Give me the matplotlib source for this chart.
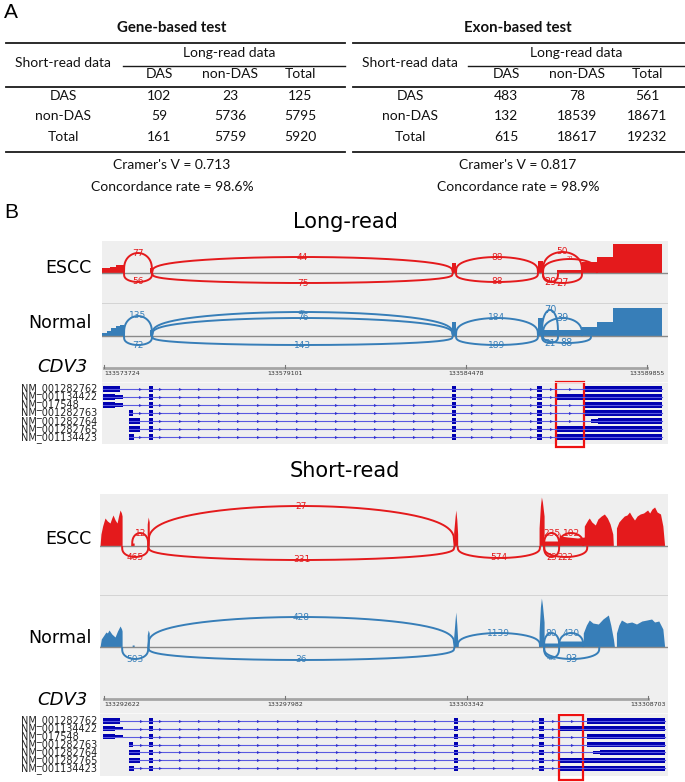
import numpy as np
import matplotlib
matplotlib.use('Agg')
import matplotlib.pyplot as plt
from matplotlib.patches import Rectangle

W, H = 685, 782

# ---- panel A: contingency tables ----
LONG_COLS = ['DAS', 'non-DAS', 'Total']
SHORT_ROWS = ['DAS', 'non-DAS', 'Total']
GENE_COUNTS = [[102, 23, 125], [59, 5736, 5795], [161, 5759, 5920]]
EXON_COUNTS = [[483, 78, 561], [132, 18539, 18671], [615, 18617, 19232]]
GENE_CRAMER, GENE_CONC = 0.713, 98.6
EXON_CRAMER, EXON_CONC = 0.817, 98.9

# ---- panel B: sashimi plots (x in bp from first axis tick) ----
LR_TICKS = [133573724, 133579101, 133584478, 133589855]
SR_TICKS = [133292622, 133297982, 133303342, 133308703]

# long-read coverage blocks: (start, end, depth)
LR_ESCC_COV = [(-59, 178, 5), (178, 356, 6), (356, 594, 8), (1366, 1455, 5),
               (10336, 10454, 10), (12890, 13038, 12), (13454, 14197, 3),
               (14197, 14642, 11), (14642, 15117, 16), (15117, 16573, 29)]
LR_NORM_COV = [(-59, 89, 3), (89, 208, 5), (208, 356, 8), (356, 475, 10), (475, 594, 11),
               (1366, 1455, 6), (10336, 10454, 14), (12890, 13038, 18), (13038, 13484, 6),
               (13484, 14197, 6), (14197, 14642, 9), (14642, 15117, 14), (15117, 16573, 28)]

# short-read coverage profile
SR_ESCC_POS = [-118, -90, -40, 30, 100, 178, 230, 267, 330, 386, 430, 475, 515, 535, 536,
               832, 833, 891, 892, 1277, 1278, 1307, 1337, 1338,
               10336, 10337, 10380, 10400, 10430, 10454, 10455,
               12860, 12861, 12900, 12930, 12960, 13009, 13010, 13454, 13455, 13500, 13700, 14000, 14197,
               14198, 14300, 14345, 14420, 14523, 14600, 14700, 14791, 14880, 14960, 15040, 15058,
               15147, 15148, 15220, 15296, 15380, 15460, 15533, 15600, 15682, 15760, 15850, 15950,
               16068, 16130, 16200, 16276, 16350, 16450, 16520, 16573]
SR_ESCC_DEP = [0, 12, 20, 28, 25, 23, 28, 31, 26, 23, 30, 36, 33, 30, 0,
               0, 3, 3, 0, 0, 22, 29, 24, 0,
               0, 14, 30, 36, 26, 12, 0,
               0, 18, 40, 49, 44, 30, 5, 5, 14, 10, 9, 8, 9,
               20, 26, 28, 24, 21, 27, 30, 32, 28, 22, 12, 0,
               0, 18, 24, 27, 30, 31, 34, 30, 26, 30, 32, 33,
               36, 33, 37, 39, 34, 32, 20, 0]
SR_NORM_POS = [-118, -80, 0, 59, 100, 149, 230, 327, 400, 475, 520, 535, 536,
               832, 833, 891, 892, 1277, 1278, 1307, 1337, 1338,
               10336, 10337, 10380, 10400, 10430, 10454, 10455,
               12860, 12861, 12900, 12930, 12960, 13009, 13010, 13454, 13455, 14167,
               14168, 14260, 14345, 14450, 14612, 14750, 14909, 14980, 15058, 15090,
               15147, 15148, 15220, 15296, 15450, 15600, 15741, 15900, 16050, 16187,
               16276, 16400, 16520, 16573]
SR_NORM_DEP = [0, 8, 12, 15, 14, 17, 13, 10, 16, 21, 18, 16, 0,
               0, 2, 2, 0, 0, 12, 17, 14, 0,
               0, 10, 28, 35, 22, 8, 0,
               0, 15, 40, 49, 42, 25, 4, 4, 6, 6,
               14, 22, 27, 24, 23, 28, 32, 22, 8, 0,
               0, 14, 22, 27, 24, 25, 23, 26, 27, 28,
               25, 26, 18, 0]

# junctions: (start, end, reads, arc height, label size)
LR_ESCC_JUNC = [(594, 1426, 77, 20, 6.5), (594, 1426, 56, -9, 6.5),
                (1426, 10365, 44, 16, 6.5), (1426, 10365, 75, -10, 6.5),
                (10454, 12890, 88, 16, 6.5), (10454, 12890, 88, -9, 6.5),
                (13038, 14197, 50, 21, 6.5), (13038, 14642, 21, 14, 4),
                (13038, 13484, 29, -9, 7), (13038, 14197, 27, -10, 7)]
LR_NORM_JUNC = [(594, 1426, 135, 20, 6.5), (594, 1426, 72, -9, 6.5),
                (1426, 10365, 76, 18, 6.5), (1426, 10365, 70, 24, 4),
                (1426, 10365, 143, -9, 6.5),
                (10454, 12890, 184, 18, 6.5), (10454, 12890, 189, -9, 6.5),
                (13009, 13484, 70, 26, 7), (13038, 14197, 39, 18, 7),
                (13009, 13484, 21, -7, 6.5), (13038, 14464, 88, -7, 7)]
SR_ESCC_JUNC = [(535, 1307, 465, -11, 6.5), (832, 1307, 12, 13, 6.5),
                (1307, 10365, 27, 40, 6.5), (1307, 10365, 331, -14, 6.5),
                (10454, 12890, 574, -12, 6.5),
                (13009, 13454, 235, 13, 6.5), (13454, 14167, 102, 13, 6.5),
                (13009, 13454, 23, -11, 6), (13009, 14286, 222, -11, 6)]
SR_NORM_JUNC = [(535, 1307, 503, -12, 6.5), (1307, 10365, 428, 30, 6.5),
                (1307, 10365, 36, -13, 6.5), (10454, 12890, 1139, 14, 6.5),
                (13009, 13454, 80, 14, 6.5), (13454, 14167, 430, 14, 6.5),
                (13009, 13454, 432, -11, 4), (13009, 14642, 93, -12, 7)]

# CDV3 transcripts (bp offsets, 1 = coding block, 0 = UTR)
TX_NAMES = ['NM_001282762', 'NM_001134422', 'NM_017548', 'NM_001282763',
            'NM_001282764', 'NM_001282765', 'NM_001134423']
TX_FIRST = [[(-30, 475, 1)],
            [(-30, 327, 1), (327, 564, 0)],
            [(-30, 327, 1), (327, 564, 0)],
            [(743, 861, 1)],
            [(743, 1069, 1)],
            [(743, 1069, 1)],
            [(743, 891, 1)]]
TX_SHARED = [(1337, 1455, 1), (10336, 10454, 1), (12860, 13009, 1)]
TX_LAST = [[(14286, 16573, 1)],
           [(13424, 16573, 1)],
           [(14286, 16573, 1)],
           [(14286, 16573, 1)],
           [(14464, 14672, 0), (14672, 16573, 1)],
           [(13424, 16573, 1)],
           [(13424, 16573, 1)]]

RED = '#e41a1c'
BLUE = '#377eb8'
BG = '#efefef'

fig = plt.figure(figsize=(W / 100, H / 100), dpi=100)
ax0 = fig.add_axes([0, 0, 1, 1])
ax0.set_xlim(0, W)
ax0.set_ylim(H, 0)
ax0.axis('off')


def px_axes(x0, y0, x1, y1):
    return fig.add_axes([x0 / W, 1 - y1 / H, (x1 - x0) / W, (y1 - y0) / H])


def draw_table(x0, x1, cx, row_x, sub_x0, col_x, title, counts, cramer, conc):
    kw = dict(ha='center', va='center', fontsize=10, family='Lato', color='#111111')
    ax0.text(cx, 28, title, fontweight='bold', ha='center', va='center',
             fontsize=10.8, family='Lato', color='#111111')
    ax0.plot([x0, x1], [43, 43], color='#1a1a1a', lw=1.3)
    ax0.text(np.mean([col_x[0], col_x[-1]]), 53, 'Long-read data', **kw)
    ax0.text(row_x, 63, 'Short-read data', **kw)
    ax0.plot([sub_x0, x1], [65.5, 65.5], color='#1a1a1a', lw=1.0)
    for x, c in zip(col_x, LONG_COLS):
        ax0.text(x, 74, c, **kw)
    ax0.plot([x0, x1], [87, 87], color='#1a1a1a', lw=1.3)
    for i, (lab, row) in enumerate(zip(SHORT_ROWS, counts)):
        y = 96 + 20.5 * i
        ax0.text(row_x, y, lab, **kw)
        for x, v in zip(col_x, row):
            ax0.text(x, y, str(v), **kw)
    ax0.plot([x0, x1], [152, 152], color='#1a1a1a', lw=1.3)
    ax0.text(cx, 165, "Cramer's V = %.3f" % cramer, **kw)
    ax0.text(cx, 187, 'Concordance rate = %.1f%%' % conc, **kw)


ax0.text(4, 13, 'A', fontsize=15, family='Liberation Sans', va='center')
draw_table(6, 345, 172, 63, 123, [159, 230, 300], 'Gene-based test',
           GENE_COUNTS, GENE_CRAMER, GENE_CONC)
draw_table(353, 685, 518, 410, 468, [506, 577, 647], 'Exon-based test',
           EXON_COUNTS, EXON_CRAMER, EXON_CONC)

ax0.text(4, 213, 'B', fontsize=15, family='Liberation Sans', va='center')
ax0.text(345, 222, 'Long-read', fontsize=15, ha='center', va='center')
ax0.text(345, 471, 'Short-read', fontsize=15, ha='center', va='center')


def setup(ax, xlim, ylim):
    ax.set_xlim(*xlim)
    ax.set_ylim(*ylim)
    ax.set_facecolor(BG)
    for s in ax.spines.values():
        s.set_visible(False)
    ax.set_xticks([])
    ax.set_yticks([])


def draw_arcs(ax, junc, color):
    u = np.linspace(0, 1, 300)
    for a, b, n, h, fs in junc:
        x = a + (b - a) * u
        y = h * np.sin(np.pi * u) ** 0.3
        ax.plot(x, y, color=color, lw=1.4, solid_capstyle='butt')
        ax.text((a + b) / 2, h, str(n), color=color, fontsize=fs,
                ha='center', va='center')


def long_track(box, ylim, cov, junc, color, top_line):
    ax = px_axes(*box)
    setup(ax, (-59, 16751), ylim)
    if top_line:
        ax.axhline(ylim[1], color='#cfcfcf', lw=1.2)
    ax.axhline(0, color='#8a8a8a', lw=1)
    s = [c[0] for c in cov]
    w = [c[1] - c[0] for c in cov]
    d = [c[2] for c in cov]
    ax.bar(s, d, width=w, align='edge', color=color, lw=0)
    draw_arcs(ax, junc, color)
    return ax


def short_track(box, ylim, pos, dep, junc, color, top_line):
    ax = px_axes(*box)
    setup(ax, (-118, 16672), ylim)
    if top_line:
        ax.axhline(ylim[1], color='#cfcfcf', lw=1.2)
    ax.axhline(0, color='#8a8a8a', lw=1)
    ax.fill_between(pos, 0, dep, color=color, lw=0)
    draw_arcs(ax, junc, color)
    return ax


def axis_track(box, xlim, ticks, line_y, ylim):
    ax = px_axes(*box)
    setup(ax, xlim, ylim)
    off = [t - ticks[0] for t in ticks]
    ax.plot([off[0], off[-1]], [line_y, line_y], color='#a5a5a5', lw=2)
    for i, (o, t) in enumerate(zip(off, ticks)):
        ax.plot([o, o], [line_y, line_y - 3], color='#777777', lw=0.8)
        ax.text(o, line_y + 3, str(t), fontsize=4.5, color='#333333',
                ha='left' if i == 0 else 'center', va='top')


def tx_track(box, xlim, ylim, red_box):
    ax = px_axes(*box)
    setup(ax, xlim, ylim)
    ax.axhline(ylim[1], color='#fafafa', lw=1.2)
    chev_all = np.arange(-77, 16600, 580)
    for i in range(len(TX_NAMES)):
        exons = TX_FIRST[i] + TX_SHARED + TX_LAST[i]
        s, e = exons[0][0], exons[-1][1]
        ax.plot([s, e], [i, i], color='#5a5ae0', lw=0.8)
        chev = [c for c in chev_all if s + 80 < c < e - 80 and
                not any(a - 80 < c < b + 80 for a, b, _ in exons)]
        ax.plot(chev, [i] * len(chev), ls='none', marker='>', ms=2.2,
                color='#3030cc', mew=0)
        for a, b, cds in exons:
            hh = 0.33 if cds else 0.2
            ax.add_patch(Rectangle((a, i - hh), b - a, 2 * hh, color='#0000b0', lw=0))
    x0, x1, y0, y1 = red_box
    ax.add_patch(Rectangle((x0, y0), x1 - x0, y1 - y0, fill=False,
                           edgecolor='#ee1111', lw=1.6, clip_on=False))
    return ax


# long-read
long_track((102, 241, 668, 303), (-30, 32), LR_ESCC_COV, LR_ESCC_JUNC, RED, False)
long_track((102, 303, 668, 358), (-22, 33), LR_NORM_COV, LR_NORM_JUNC, BLUE, True)
axis_track((102, 358, 668, 382), (-59, 16751), LR_TICKS, 10, (24, 0))
tx_track((102, 382, 668, 444), (-59, 16751), (6.875, -0.875), (13424, 14256, -0.875, 7.25))

# short-read
short_track((100, 494, 668, 595), (-49, 52), SR_ESCC_POS, SR_ESCC_DEP, SR_ESCC_JUNC, RED, False)
short_track((100, 595, 668, 690), (-43, 52), SR_NORM_POS, SR_NORM_DEP, SR_NORM_JUNC, BLUE, True)
axis_track((100, 690, 668, 713), (-118, 16672), SR_TICKS, 9, (23, 0))
tx_track((100, 713, 668, 776), (-118, 16672), (7.0, -1.02), (13454, 14167, -0.76, 7.5))

# side labels
for y, lab in [(268, 'ESCC'), (323, 'Normal'), (539, 'ESCC'), (638, 'Normal')]:
    ax0.text(92, y, lab, fontsize=12.5, ha='right', va='center')
for y_mid, yc, ls in [(413, 367, 0.67), (744.5, 700, 0.655)]:
    ax0.text(62, yc, 'CDV3', fontsize=13, style='italic', ha='center', va='center')
    # transcript names stacked as one block, left aligned like the source
    ax0.text(21, y_mid, '\n'.join(TX_NAMES), fontsize=7, ha='left', va='center',
             multialignment='left', linespacing=ls, color='#222222')

fig.savefig('out.png', dpi=100)
